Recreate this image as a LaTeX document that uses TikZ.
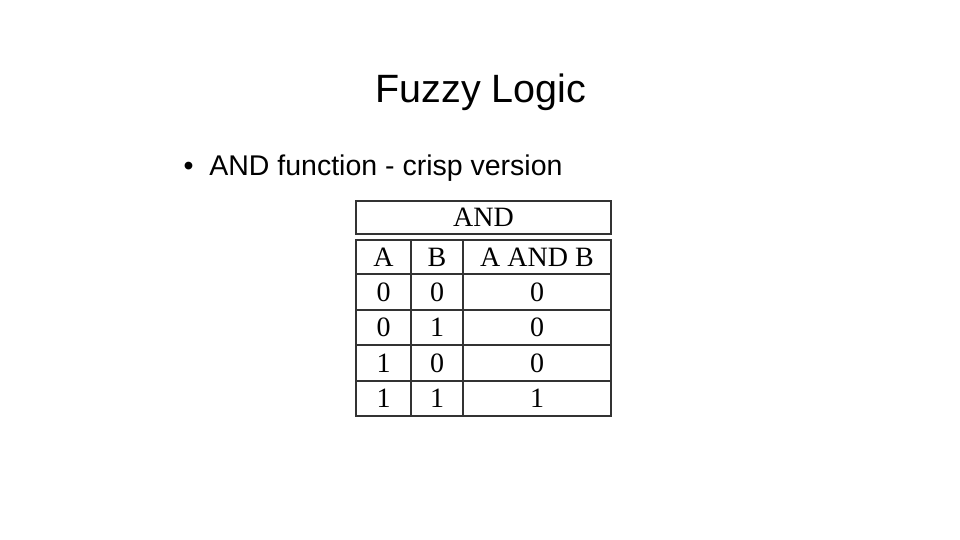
\documentclass[tikz,border=0pt]{standalone}
\usepackage{fontspec}
\setmainfont{Liberation Sans}
\newfontfamily\serif{Liberation Serif}
\begin{document}
\begin{tikzpicture}[x=1pt,y=-1pt,
  cell/.style={font=\serif\fontsize{28}{28}\selectfont,inner sep=0pt},
  grid/.style={line width=1.3pt,black!80}]
\useasboundingbox (0,0) rectangle (960,540);
\node (title) at (481,92) {\fontsize{39.5}{41}\selectfont Fuzzy Logic};
\node[anchor=west] (bul) at (180,168) {\fontsize{28.5}{30}\selectfont \textbullet\ \ AND function - crisp version};
\draw[grid] (356,201) rectangle (611,234);
\node[cell] (hdr) at (483.5,217) {AND};
\draw[grid] (356,240) rectangle (611,416);
\foreach \y in {274,310,345,381} \draw[grid] (356,\y) -- (611,\y);
\draw[grid] (411,240) -- (411,416);
\draw[grid] (463,240) -- (463,416);
\node[cell] (ha) at (383.5,257) {A};
\node[cell] (hb) at (437,257) {B};
\node[cell] (hab) at (537,257) {A AND B};
\foreach \a/\b/\c/\y [count=\i] in {0/0/0/292,0/1/0/327.5,1/0/0/363,1/1/1/398.5}{
  \node[cell] (a\i) at (383.5,\y) {\a};
  \node[cell] (b\i) at (437,\y) {\b};
  \node[cell] (c\i) at (537,\y) {\c};
}
\end{tikzpicture}
\end{document}
